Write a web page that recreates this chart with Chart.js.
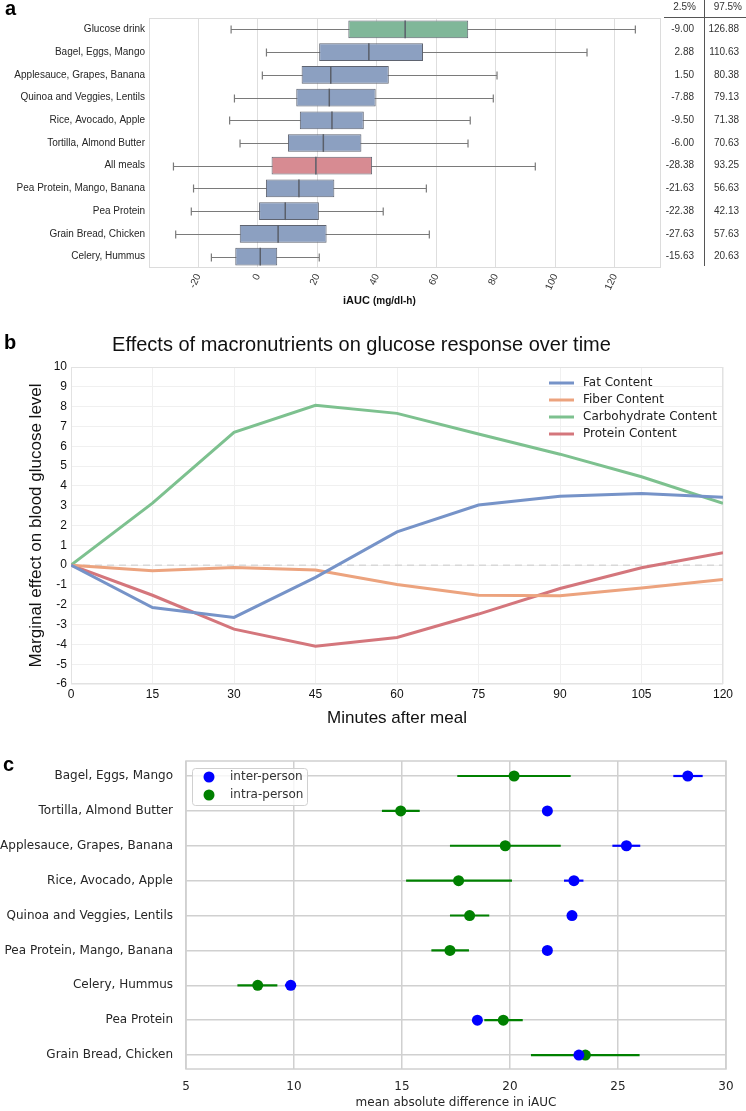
<!DOCTYPE html>
<html>
<head>
<meta charset="utf-8">
<script src="https://cdn.jsdelivr.net/npm/chart.js@4.4.0/dist/chart.umd.min.js"></script>
<style>
  body { margin: 0; background: #fff; }
  #wrap { position: relative; width: 746px; height: 1111px; overflow: hidden; }
  canvas { position: absolute; left: 0; }
  .tag { position: absolute; font: bold 20px "Liberation Sans", Arial, sans-serif; color: #000; }
</style>
</head>
<body>
<div id="wrap">
  <canvas id="boxChart" width="746" height="310" style="top:0"></canvas>
  <canvas id="lineChart" width="746" height="403" style="top:330px"></canvas>
  <canvas id="dotChart" width="746" height="371" style="top:740px"></canvas>
  <div class="tag" style="left:5px;top:-3px">a</div>
  <div class="tag" style="left:4px;top:331px">b</div>
  <div class="tag" style="left:3px;top:753px">c</div>
</div>
<script>
const SANS = '"Liberation Sans", Arial, sans-serif';
const DEJAVU = '"DejaVu Sans", sans-serif';
Chart.defaults.font.family = SANS;

// ---- panel a: iAUC per meal ----
const mealsA = ['Glucose drink', 'Bagel, Eggs, Mango', 'Applesauce, Grapes, Banana', 'Quinoa and Veggies, Lentils',
  'Rice, Avocado, Apple', 'Tortilla, Almond Butter', 'All meals', 'Pea Protein, Mango, Banana', 'Pea Protein',
  'Grain Bread, Chicken', 'Celery, Hummus'];
const whiskerLo = [-9.00, 2.88, 1.50, -7.88, -9.50, -6.00, -28.38, -21.63, -22.38, -27.63, -15.63];
const q1 = [30.4, 20.6, 14.7, 12.9, 14.1, 10.1, 4.6, 2.7, 0.4, -6.1, -7.6];
const medians = [49.5, 37.3, 24.5, 24.0, 24.9, 22.0, 19.5, 13.8, 9.2, 6.8, 0.8];
const q3 = [70.7, 55.5, 44.0, 39.6, 35.6, 34.8, 38.4, 25.7, 20.5, 23.1, 6.5];
const whiskerHi = [126.88, 110.63, 80.38, 79.13, 71.38, 70.63, 93.25, 56.63, 42.13, 57.63, 20.63];
const iaucTicks = [-20, 0, 20, 40, 60, 80, 100, 120];

// ---- panel b: marginal effects over time ----
const minutes = [0, 15, 30, 45, 60, 75, 90, 105, 120];
const fatEffect = [0, -2.14, -2.64, -0.62, 1.68, 3.03, 3.48, 3.62, 3.42];
const fiberEffect = [0, -0.29, -0.12, -0.25, -0.98, -1.52, -1.55, -1.16, -0.72];
const carbEffect = [0, 3.13, 6.70, 8.07, 7.66, 6.62, 5.60, 4.46, 3.12];
const proteinEffect = [0, -1.52, -3.23, -4.09, -3.65, -2.47, -1.18, -0.13, 0.62];

// ---- panel c: inter vs intra person differences ----
const mealsC = ['Bagel, Eggs, Mango', 'Tortilla, Almond Butter', 'Applesauce, Grapes, Banana', 'Rice, Avocado, Apple',
  'Quinoa and Veggies, Lentils', 'Pea Protein, Mango, Banana', 'Celery, Hummus', 'Pea Protein', 'Grain Bread, Chicken'];
const interMean = [28.23, 21.73, 25.39, 22.96, 22.87, 21.73, 9.85, 18.49, 23.19];
const interLo = [27.56, 21.6, 24.74, 22.5, 22.7, 21.6, 9.58, 18.4, 23.05];
const interHi = [28.92, 21.85, 26.03, 23.4, 23.0, 21.85, 10.0, 18.6, 23.35];
const intraMean = [20.19, 14.94, 19.78, 17.62, 18.13, 17.22, 8.32, 19.69, 23.49];
const intraLo = [17.56, 14.07, 17.22, 15.19, 17.22, 16.36, 7.38, 18.81, 20.97];
const intraHi = [22.81, 15.82, 22.35, 20.09, 19.04, 18.10, 9.23, 20.59, 26.0];

function boxColor(name) {
  if (name === 'Glucose drink') return '#80b799';
  if (name === 'All meals') return '#d78b92';
  return '#8ca0c1';
}

const boxExtras = {
  id: 'boxExtras',
  beforeDatasetsDraw(chart) {
    const { ctx, chartArea: a, scales: { x, y } } = chart;
    ctx.save();
    ctx.strokeStyle = '#dcdcdc';
    ctx.lineWidth = 1;
    ctx.strokeRect(a.left + 0.5, a.top + 0.5, a.width - 1, a.height - 1);
    ctx.strokeStyle = '#7a7a7a';
    ctx.lineWidth = 1.2;
    mealsA.forEach((m, i) => {
      const py = Math.round(y.getPixelForValue(i)) + 0.5;
      const x0 = x.getPixelForValue(whiskerLo[i]);
      const x1 = x.getPixelForValue(whiskerHi[i]);
      ctx.beginPath();
      ctx.moveTo(x0, py); ctx.lineTo(x1, py);
      ctx.moveTo(x0, py - 4); ctx.lineTo(x0, py + 4);
      ctx.moveTo(x1, py - 4); ctx.lineTo(x1, py + 4);
      ctx.stroke();
    });
    ctx.restore();
  },
  afterDatasetsDraw(chart) {
    const { ctx, scales: { x, y } } = chart;
    const bar = chart.getDatasetMeta(0).data;
    ctx.save();
    // medians
    ctx.strokeStyle = '#5a5f6a';
    ctx.lineWidth = 1.5;
    medians.forEach((v, i) => {
      const px = x.getPixelForValue(v);
      const h = bar[i].height / 2;
      ctx.beginPath();
      ctx.moveTo(px, bar[i].y - h); ctx.lineTo(px, bar[i].y + h);
      ctx.stroke();
    });
    // percentile table
    ctx.fillStyle = '#333';
    ctx.font = '10px ' + SANS;
    ctx.textBaseline = 'middle';
    ctx.textAlign = 'right';
    ctx.fillText('2.5%', 696, 7);
    ctx.fillText('97.5%', 742, 7);
    mealsA.forEach((m, i) => {
      const py = y.getPixelForValue(i);
      ctx.fillText(whiskerLo[i].toFixed(2), 694, py);
      ctx.fillText(whiskerHi[i].toFixed(2), 739, py);
    });
    ctx.strokeStyle = '#555';
    ctx.lineWidth = 1;
    ctx.beginPath();
    ctx.moveTo(704.5, 0); ctx.lineTo(704.5, 266);
    ctx.moveTo(664, 17.5); ctx.lineTo(746, 17.5);
    ctx.stroke();
    // axis title with two font sizes
    ctx.fillStyle = '#111';
    ctx.textAlign = 'left';
    ctx.textBaseline = 'alphabetic';
    ctx.font = 'bold 11px ' + SANS;
    ctx.fillText('iAUC', 343, 304);
    const w = ctx.measureText('iAUC ').width;
    ctx.font = 'bold 10px ' + SANS;
    ctx.fillText('(mg/dl-h)', 343 + w, 304);
    ctx.restore();
  }
};

new Chart(document.getElementById('boxChart'), {
  type: 'bar',
  data: {
    labels: mealsA,
    datasets: [{
      data: q1.map((v, i) => [v, q3[i]]),
      backgroundColor: mealsA.map(boxColor),
      borderColor: '#5f6470',
      borderWidth: 1,
      borderSkipped: false,
      barPercentage: 0.78,
      categoryPercentage: 1
    }]
  },
  options: {
    indexAxis: 'y',
    responsive: false,
    animation: false,
    layout: { padding: { top: 18, right: 85, left: 0, bottom: 0 } },
    plugins: { legend: { display: false }, tooltip: { enabled: false } },
    scales: {
      x: {
        type: 'linear',
        min: -36.6,
        max: 135.5,
        afterBuildTicks: s => { s.ticks = iaucTicks.map(v => ({ value: v })); },
        grid: { color: '#dedede', drawTicks: false },
        border: { display: false },
        ticks: { minRotation: 65, maxRotation: 65, padding: 4, color: '#333', font: { size: 10 } },
        afterFit: s => { s.height = 42; }
      },
      y: {
        grid: { display: false, drawTicks: false },
        border: { display: false },
        ticks: { padding: 4, color: '#262626', font: { size: 10 } },
        afterFit: s => { s.width = 149; }
      }
    }
  },
  plugins: [boxExtras]
});

// ---- panel b chart ----
const lineExtras = {
  id: 'lineExtras',
  beforeDatasetsDraw(chart) {
    const { ctx, chartArea: a, scales: { y } } = chart;
    ctx.save();
    ctx.strokeStyle = '#e2e2e2';
    ctx.lineWidth = 1;
    ctx.strokeRect(a.left + 0.5, a.top + 0.5, a.width - 1, a.height - 1);
    const py = y.getPixelForValue(0);
    ctx.setLineDash([7, 5]);
    ctx.strokeStyle = '#d8d8d8';
    ctx.lineWidth = 1.5;
    ctx.beginPath();
    ctx.moveTo(a.left, py); ctx.lineTo(a.right, py);
    ctx.stroke();
    ctx.restore();
  },
  afterDatasetsDraw(chart) {
    const { ctx, chartArea: a } = chart;
    ctx.save();
    ctx.font = '12px ' + DEJAVU;
    ctx.textBaseline = 'middle';
    ctx.lineWidth = 3;
    chart.data.datasets.forEach((ds, i) => {
      const py = a.top + 16 + 17 * i;
      ctx.strokeStyle = ds.borderColor;
      ctx.beginPath();
      ctx.moveTo(a.right - 174, py); ctx.lineTo(a.right - 149, py);
      ctx.stroke();
      ctx.fillStyle = '#222';
      ctx.fillText(ds.label, a.right - 140, py);
    });
    ctx.restore();
  }
};

function series(label, values, color) {
  return {
    label,
    data: minutes.map((m, i) => ({ x: m, y: values[i] })),
    borderColor: color,
    backgroundColor: color,
    borderWidth: 3,
    pointRadius: 0,
    tension: 0
  };
}

new Chart(document.getElementById('lineChart'), {
  type: 'line',
  data: {
    datasets: [
      series('Fat Content', fatEffect, '#7693c8'),
      series('Fiber Content', fiberEffect, '#eca37e'),
      series('Carbohydrate Content', carbEffect, '#7dc18f'),
      series('Protein Content', proteinEffect, '#d4767c')
    ]
  },
  options: {
    responsive: false,
    animation: false,
    layout: { padding: { top: 0, right: 23, left: 0, bottom: 0 } },
    plugins: {
      legend: { display: false },
      tooltip: { enabled: false },
      title: {
        display: true,
        text: 'Effects of macronutrients on glucose response over time',
        color: '#111',
        font: { size: 20, weight: 'normal' },
        padding: { top: 3, bottom: 10 }
      }
    },
    scales: {
      x: {
        type: 'linear',
        min: 0,
        max: 120,
        ticks: { stepSize: 15, padding: 3, color: '#111', font: { size: 12 } },
        grid: { color: '#f0f0f0', drawTicks: false },
        border: { display: false },
        title: { display: true, text: 'Minutes after meal', color: '#111', font: { size: 17 }, padding: { top: 0, bottom: 4 } },
        afterFit: s => { s.height = 49; }
      },
      y: {
        min: -6,
        max: 10,
        ticks: { stepSize: 1, padding: 4, color: '#111', font: { size: 12 } },
        grid: { color: '#f0f0f0', drawTicks: false },
        border: { display: false },
        title: { display: true, text: 'Marginal effect on blood glucose level', color: '#111', font: { size: 17 }, padding: { top: 26, bottom: 0 } },
        afterFit: s => { s.width = 71; }
      }
    }
  },
  plugins: [lineExtras]
});

// ---- panel c chart ----
const errLo = [interLo, intraLo];
const errHi = [interHi, intraHi];

const dotExtras = {
  id: 'dotExtras',
  beforeDatasetsDraw(chart) {
    const { ctx, chartArea: a } = chart;
    ctx.save();
    ctx.strokeStyle = '#d0d0d0';
    ctx.lineWidth = 1.5;
    ctx.strokeRect(a.left, a.top, a.width, a.height);
    ctx.restore();
  },
  beforeDatasetDraw(chart, args) {
    const { ctx, scales: { x, y } } = chart;
    const i = args.index;
    const ds = chart.data.datasets[i];
    ctx.save();
    ctx.strokeStyle = ds.backgroundColor;
    ctx.lineWidth = 2.2;
    mealsC.forEach((m, j) => {
      const py = y.getPixelForValue(j);
      ctx.beginPath();
      ctx.moveTo(x.getPixelForValue(errLo[i][j]), py);
      ctx.lineTo(x.getPixelForValue(errHi[i][j]), py);
      ctx.stroke();
    });
    ctx.restore();
  },
  afterDatasetsDraw(chart) {
    const { ctx, chartArea: a } = chart;
    ctx.save();
    const bx = a.left + 6, by = a.top + 7, bw = 115, bh = 37;
    ctx.fillStyle = 'rgba(255,255,255,0.8)';
    ctx.strokeStyle = '#d0d0d0';
    ctx.lineWidth = 1;
    ctx.beginPath();
    ctx.roundRect(bx + 0.5, by + 0.5, bw, bh, 3);
    ctx.fill();
    ctx.stroke();
    ctx.font = '12px ' + DEJAVU;
    ctx.textBaseline = 'middle';
    chart.data.datasets.forEach((ds, i) => {
      const py = by + 9 + 18 * i;
      ctx.fillStyle = ds.backgroundColor;
      ctx.beginPath();
      ctx.arc(bx + 17, py, 5.5, 0, Math.PI * 2);
      ctx.fill();
      ctx.fillStyle = '#333';
      ctx.fillText(ds.label, bx + 38, py);
    });
    ctx.restore();
  }
};

function dots(label, values, color) {
  return {
    label,
    data: values.map((v, i) => ({ x: v, y: i })),
    backgroundColor: color,
    borderColor: color,
    pointRadius: 5.5,
    pointBorderWidth: 0
  };
}

new Chart(document.getElementById('dotChart'), {
  type: 'scatter',
  data: {
    datasets: [
      dots('inter-person', interMean, '#0000ff'),
      dots('intra-person', intraMean, '#008000')
    ]
  },
  options: {
    responsive: false,
    animation: false,
    layout: { padding: { top: 21, right: 20, left: 0, bottom: 0 } },
    plugins: { legend: { display: false }, tooltip: { enabled: false } },
    scales: {
      x: {
        type: 'linear',
        min: 5,
        max: 30,
        ticks: { stepSize: 5, padding: 11, color: '#262626', font: { family: DEJAVU, size: 12 } },
        grid: { color: '#d0d0d0', lineWidth: 1.5, drawTicks: false },
        border: { display: false },
        title: { display: true, text: 'mean absolute difference in iAUC', color: '#262626', font: { family: DEJAVU, size: 12 }, padding: { top: 0, bottom: 1 } },
        afterFit: s => { s.height = 42; }
      },
      y: {
        type: 'linear',
        reverse: true,
        min: -0.43,
        max: 8.4,
        afterBuildTicks: s => { s.ticks = mealsC.map((m, i) => ({ value: i })); },
        ticks: { padding: 13, color: '#262626', font: { family: DEJAVU, size: 12 }, callback: v => mealsC[v] },
        grid: { color: '#d0d0d0', lineWidth: 1.5, drawTicks: false },
        border: { display: false },
        afterFit: s => { s.width = 186; }
      }
    }
  },
  plugins: [dotExtras]
});
</script>
</body>
</html>
